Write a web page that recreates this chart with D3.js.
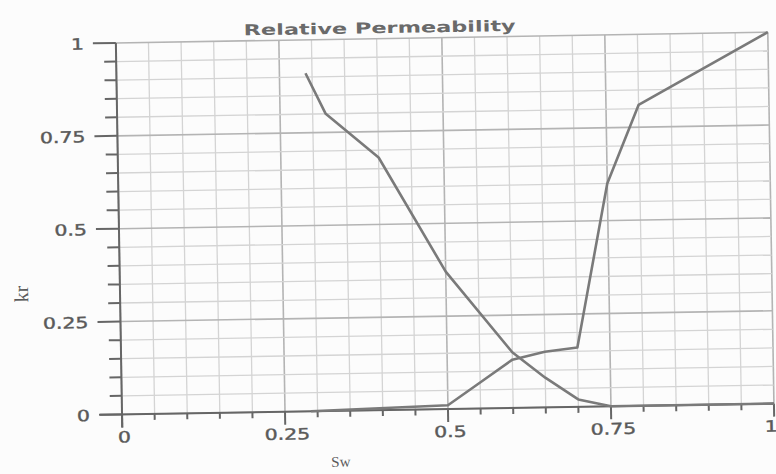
<!DOCTYPE html>
<html>
<head>
<meta charset="utf-8">
<script src="https://cdn.jsdelivr.net/npm/d3@7"></script>
<style>
  body { margin: 0; background: #fcfcfc; }
  svg { display: block; }
</style>
</head>
<body>
<div id="chart"></div>
<script>
// oil curve (falling) and water curve (rising)
const swOil = [0.29, 0.32, 0.40, 0.50, 0.60, 0.65, 0.70, 0.75, 1.00];
const krOil = [0.91, 0.80, 0.68, 0.37, 0.15, 0.08, 0.02, 0.00, 0.00];
const swWater = [0.29, 0.50, 0.55, 0.60, 0.65, 0.70, 0.75, 0.80, 1.00];
const krWater = [0.00, 0.01, 0.07, 0.13, 0.15, 0.16, 0.60, 0.81, 1.00];

const xTicks = [0, 0.25, 0.5, 0.75, 1];
const yTicks = [0, 0.25, 0.5, 0.75, 1];
const xTickLabels = ["0", "0.25", "0.5", "0.75", "1"];
const yTickLabels = ["0", "0.25", "0.5", "0.75", "1"];
const minorStep = 0.05;

const W = 776, H = 474;
const x = d3.scaleLinear().domain([0, 1]).range([119, 771]);
const y = d3.scaleLinear().domain([0, 1]).range([409, 37.5]);

const svg = d3.select("#chart")
  .append("svg")
  .attr("width", W)
  .attr("height", H);

svg.append("rect").attr("width", W).attr("height", H).attr("fill", "#fcfcfc");

// the scanned page is tilted a little
const g = svg.append("g")
  .attr("transform", "rotate(-0.95, 448, 229)");

const minor = d3.range(0, 1.0001, minorStep).map(d => +d.toFixed(2));
const isMajor = d => Math.abs(d * 4 - Math.round(d * 4)) < 1e-6;

// grid
g.append("g").selectAll("line")
  .data(minor)
  .enter()
  .append("line")
  .attr("x1", d => x(d)).attr("x2", d => x(d))
  .attr("y1", y(0)).attr("y2", y(1))
  .attr("stroke", d => isMajor(d) ? "#b4b4b4" : "#d4d4d4")
  .attr("stroke-width", d => isMajor(d) ? 1.6 : 1.3);

g.append("g").selectAll("line")
  .data(minor)
  .enter()
  .append("line")
  .attr("x1", x(0)).attr("x2", x(1))
  .attr("y1", d => y(d)).attr("y2", d => y(d))
  .attr("stroke", d => isMajor(d) ? "#b4b4b4" : "#d4d4d4")
  .attr("stroke-width", d => isMajor(d) ? 1.6 : 1.3);

// axes
const axisColor = "#666";
const textColor = "#5a5a5a";

const yAxis = g.append("g").attr("transform", `translate(${x(0)},0)`);
yAxis.append("line")
  .attr("y1", y(1)).attr("y2", y(0) + 13)
  .attr("stroke", axisColor).attr("stroke-width", 2);
yAxis.selectAll(".tick")
  .data(minor)
  .enter()
  .append("line")
  .attr("x1", d => isMajor(d) ? -23 : -12).attr("x2", 0)
  .attr("y1", d => y(d)).attr("y2", d => y(d))
  .attr("stroke", axisColor).attr("stroke-width", 2);
yAxis.selectAll(".lbl")
  .data(yTicks)
  .enter()
  .append("text")
  .attr("class", "stretch")
  .attr("x", -32)
  .attr("y", d => y(d) + 6)
  .attr("text-anchor", "end")
  .text((d, i) => yTickLabels[i]);

const xAxis = g.append("g").attr("transform", `translate(0,${y(0)})`);
xAxis.append("line")
  .attr("x1", x(0) - 22).attr("x2", x(1))
  .attr("stroke", axisColor).attr("stroke-width", 2);
xAxis.selectAll(".tick")
  .data(minor)
  .enter()
  .append("line")
  .attr("x1", d => x(d)).attr("x2", d => x(d))
  .attr("y1", 0).attr("y2", d => isMajor(d) ? 13 : 6)
  .attr("stroke", axisColor).attr("stroke-width", 2);
xAxis.selectAll(".lbl")
  .data(xTicks)
  .enter()
  .append("text")
  .attr("class", "stretch")
  .attr("x", d => d === 1 ? x(d) - 3 : x(d) + 2)
  .attr("y", 28)
  .attr("text-anchor", "middle")
  .text((d, i) => xTickLabels[i]);

g.selectAll("text.stretch")
  .attr("font-family", "DejaVu Sans, sans-serif")
  .attr("font-size", 15.5)
  .attr("fill", textColor)
  .attr("stroke", textColor)
  .attr("stroke-width", 0.4);

// curves
const line = d3.line()
  .x(d => x(d[0]))
  .y(d => y(d[1]));

g.append("path")
  .datum(d3.zip(swWater, krWater))
  .attr("d", line)
  .attr("fill", "none")
  .attr("stroke", "#7a7a7a")
  .attr("stroke-width", 2.6)
  .attr("stroke-linejoin", "round");

g.append("path")
  .datum(d3.zip(swOil, krOil))
  .attr("d", line)
  .attr("fill", "none")
  .attr("stroke", "#7a7a7a")
  .attr("stroke-width", 2.6)
  .attr("stroke-linejoin", "round");

// titles
g.append("text")
  .attr("x", 383)
  .attr("y", 32)
  .attr("text-anchor", "middle")
  .attr("font-family", "DejaVu Sans, sans-serif")
  .attr("font-size", 15)
  .attr("font-weight", "bold")
  .attr("fill", "#6a6a6a")
  .attr("textLength", 272)
  .attr("lengthAdjust", "spacingAndGlyphs")
  .text("Relative Permeability");

g.append("text")
  .attr("x", 337)
  .attr("y", 465)
  .attr("text-anchor", "middle")
  .attr("font-family", "Liberation Serif, serif")
  .attr("font-size", 15)
  .attr("fill", textColor)
  .text("Sw");

g.append("text")
  .attr("transform", "translate(27,287) rotate(-90)")
  .attr("text-anchor", "middle")
  .attr("font-family", "Liberation Serif, serif")
  .attr("font-size", 20)
  .attr("fill", textColor)
  .text("kr");

// the scan's lettering is wider than the font
g.selectAll("text.stretch").each(function() {
  const w = this.getComputedTextLength();
  d3.select(this)
    .attr("textLength", w * 1.32)
    .attr("lengthAdjust", "spacingAndGlyphs");
});
</script>
</body>
</html>
